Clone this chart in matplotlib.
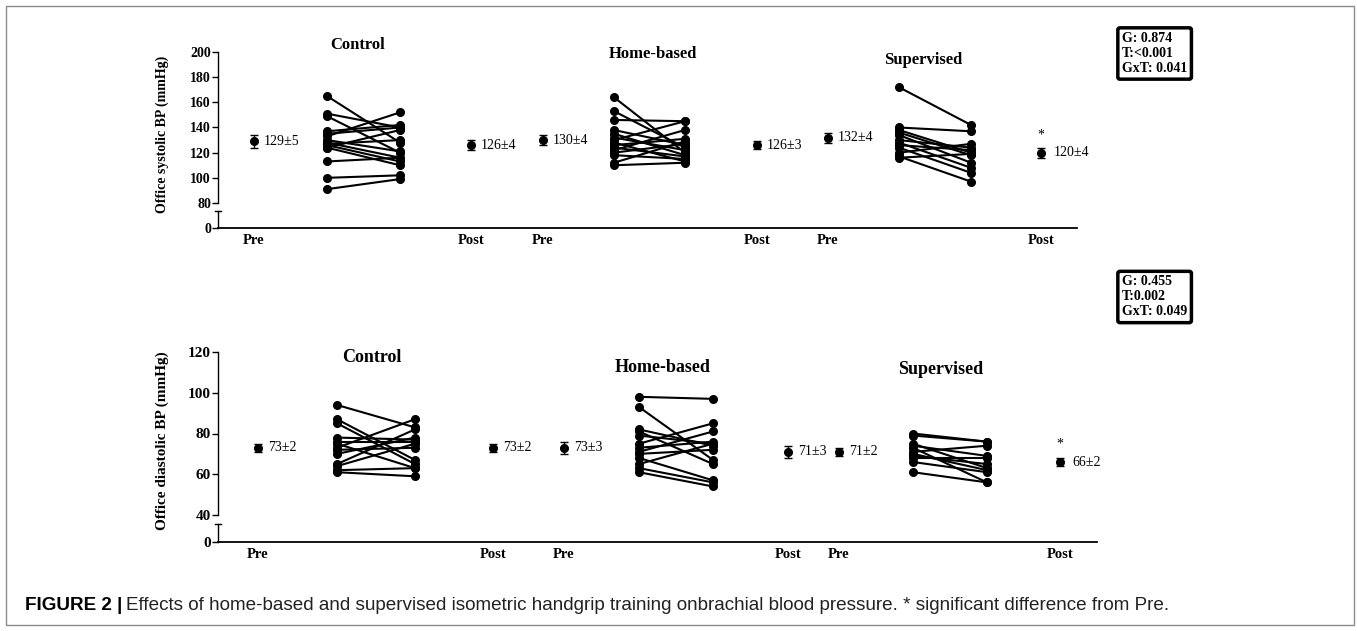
import numpy as np
import matplotlib.pyplot as plt
from matplotlib.lines import Line2D
from matplotlib.patches import Rectangle

# ---- data (mmHg) ----
groups = ["Control", "Home-based", "Supervised"]
phase_labels = ["Pre", "Post"]

# office systolic BP, individual subjects
sbp_ctrl_pre = [165, 151, 149, 137, 135, 133, 130, 128, 127, 126, 124, 124, 113, 100, 91]
sbp_ctrl_post = [128, 140, 120, 142, 140, 152, 121, 116, 130, 113, 110, 138, 116, 102, 99]
sbp_home_pre = [164, 153, 146, 138, 135, 132, 130, 128, 126, 124, 122, 120, 118, 112, 110]
sbp_home_post = [120, 124, 145, 126, 118, 122, 145, 113, 131, 117, 138, 127, 115, 129, 112]
sbp_sup_pre = [172, 140, 138, 136, 134, 130, 128, 126, 124, 120, 117, 116]
sbp_sup_post = [142, 137, 120, 118, 112, 124, 108, 122, 104, 127, 97, 119]
# group mean and SEM
sbp_mean_pre = [129, 130, 132]
sbp_sem_pre = [5, 4, 4]
sbp_mean_post = [126, 126, 120]
sbp_sem_post = [4, 3, 4]
sbp_stats = ["G: 0.874", "T:<0.001", "GxT: 0.041"]

# office diastolic BP, individual subjects
dbp_ctrl_pre = [94, 87, 85, 78, 76, 75, 73, 72, 70, 65, 64, 62, 61]
dbp_ctrl_post = [83, 67, 65, 77, 76, 63, 87, 73, 78, 82, 75, 63, 59]
dbp_home_pre = [98, 93, 82, 81, 79, 75, 73, 71, 70, 68, 65, 63, 61]
dbp_home_post = [97, 67, 74, 65, 75, 85, 76, 81, 72, 57, 75, 56, 54]
dbp_sup_pre = [80, 79, 75, 74, 73, 71, 70, 69, 68, 66, 61]
dbp_sup_post = [76, 76, 63, 69, 56, 74, 62, 65, 68, 61, 56]
dbp_mean_pre = [73, 73, 71]
dbp_sem_pre = [2, 3, 2]
dbp_mean_post = [73, 71, 66]
dbp_sem_post = [2, 3, 2]
dbp_stats = ["G: 0.455", "T:0.002", "GxT: 0.049"]

# Post significantly different from Pre
significant = [False, False, True]

# ---- layout (figure pixels) ----
W, H = 1357, 631
SERIF = "Liberation Serif"
SANS = ['Liberation Sans', 'DejaVu Sans']

plt.rcParams['font.family'] = [SERIF, 'DejaVu Serif']
fig = plt.figure(figsize=(W / 100, H / 100), dpi=100)
fig.add_artist(Rectangle((6 / W, 1 - 625 / H), 1348 / W, 619 / H, transform=fig.transFigure,
                         fill=False, edgecolor='#8a8a8a', lw=1.0))


def px_axes(x0, x1, y_top, y_bot):
    return fig.add_axes([x0 / W, 1 - y_bot / H, (x1 - x0) / W, (y_bot - y_top) / H])


def draw_panel(ind, means_pre, sems_pre, means_post, sems_post, slots, ylim, yticks,
               y_top, y_low, y_break, y_zero, x_right, ylabel, title_px, title_size,
               stats, stats_px, tick_size):
    x_left = 218
    ax = px_axes(x_left, x_right, y_top, y_low)
    ax.set_xlim(x_left, x_right)
    ax.set_ylim(*ylim)
    ax.set_yticks(yticks)
    for s in ['top', 'right', 'bottom']:
        ax.spines[s].set_visible(False)
    ax.spines['left'].set_linewidth(1.0)
    ax.set_xticks([])
    ax.tick_params(axis='y', direction='out', length=4, width=1.0, labelsize=tick_size, pad=1)
    for lbl in ax.get_yticklabels():
        lbl.set_fontweight('bold')

    # broken lower part with the zero tick
    axb = px_axes(x_left, x_right, y_break, y_zero)
    axb.set_xlim(x_left, x_right)
    axb.set_ylim(0, 1)
    axb.set_yticks([0])
    axb.set_yticklabels(['0'], fontweight='bold', fontsize=tick_size)
    for s in ['top', 'right']:
        axb.spines[s].set_visible(False)
    axb.spines['left'].set_linewidth(1.0)
    axb.spines['bottom'].set_linewidth(1.3)
    axb.tick_params(axis='y', direction='out', length=4, width=1.0, pad=1)
    axb.patch.set_alpha(0)
    fig.add_artist(Line2D([(x_left - 3) / W, (x_left + 3) / W], [1 - y_break / H] * 2,
                          color='k', lw=1.0))

    xt, xl = [], []
    for g in range(3):
        p0, p1, p2, p3 = slots[g]
        pre, post = ind[g]
        for a, b in zip(pre, post):
            ax.plot([p1, p2], [a, b], color='k', lw=1.5, marker='o', ms=5.5,
                    clip_on=False, zorder=3)
        ax.errorbar([p0], [means_pre[g]], yerr=[sems_pre[g]], fmt='o', color='k', ms=5.5,
                    capsize=3, elinewidth=1, capthick=1, clip_on=False)
        ax.errorbar([p3], [means_post[g]], yerr=[sems_post[g]], fmt='o', color='k', ms=5.5,
                    capsize=3, elinewidth=1, capthick=1, clip_on=False)
        ax.annotate(f"{means_pre[g]}\u00b1{sems_pre[g]}", (p0, means_pre[g]), xytext=(7, 0),
                    textcoords='offset points', va='center', ha='left', fontsize=10)
        ax.annotate(f"{means_post[g]}\u00b1{sems_post[g]}", (p3, means_post[g]),
                    xytext=(7 if not significant[g] else 9, 0),
                    textcoords='offset points', va='center', ha='left', fontsize=10)
        if significant[g]:
            ax.annotate("*", (p3, means_post[g]), xytext=(0, 13), textcoords='offset points',
                        ha='center', va='center', fontsize=10)
        xt += [p0, p3]
        xl += phase_labels
        tx, ty = title_px[g]
        fig.text(tx / W, 1 - ty / H, groups[g], ha='center', va='center',
                 fontweight='bold', fontsize=title_size)

    axb.set_xticks(xt)
    axb.set_xticklabels(xl, fontweight='bold', fontsize=10.5)
    axb.tick_params(axis='x', length=0, pad=4)

    fig.text(162 / W, 1 - ((y_top + y_zero) / 2 - 6) / H, ylabel, rotation=90, ha='center',
             va='center', fontweight='bold', fontsize=tick_size)

    sx, sy = stats_px
    fig.text(sx / W, 1 - sy / H, "\n".join(stats), ha='left', va='center', fontweight='bold',
             fontsize=10, linespacing=1.2,
             bbox=dict(boxstyle='round,pad=0.3,rounding_size=0.15', fc='white', ec='k', lw=2.5))


draw_panel([(sbp_ctrl_pre, sbp_ctrl_post), (sbp_home_pre, sbp_home_post), (sbp_sup_pre, sbp_sup_post)],
           sbp_mean_pre, sbp_sem_pre, sbp_mean_post, sbp_sem_post,
           slots=[(254, 327, 400, 471), (543, 614, 685, 757), (828, 899, 971, 1041)],
           ylim=(80, 200), yticks=np.arange(80, 201, 20),
           y_top=52, y_low=203, y_break=211, y_zero=228, x_right=1077,
           ylabel="Office systolic BP (mmHg)",
           title_px=[(358, 45), (653, 54), (923, 60)], title_size=12,
           stats=sbp_stats, stats_px=(1122, 53.5), tick_size=10)

draw_panel([(dbp_ctrl_pre, dbp_ctrl_post), (dbp_home_pre, dbp_home_post), (dbp_sup_pre, dbp_sup_post)],
           dbp_mean_pre, dbp_sem_pre, dbp_mean_post, dbp_sem_post,
           slots=[(258, 337, 415, 493), (564, 639, 713, 788), (839, 913, 987, 1060)],
           ylim=(40, 120), yticks=np.arange(40, 121, 20),
           y_top=352, y_low=515, y_break=524, y_zero=542, x_right=1097,
           ylabel="Office diastolic BP (mmHg)",
           title_px=[(372, 357), (663, 367), (941, 369)], title_size=13,
           stats=dbp_stats, stats_px=(1122, 297), tick_size=11)

# caption
cap = fig.text(25 / W, 1 - 606 / H, "FIGURE 2 |", ha='left', va='center', fontweight='bold',
               fontsize=13.6, family=SANS)
fig.axes[0].annotate("Effects of home-based and supervised isometric handgrip training onbrachial blood "
                     "pressure. * significant difference from Pre.",
                     xy=(1, 0.5), xycoords=cap, xytext=(3, 0), textcoords='offset points',
                     ha='left', va='center', fontsize=13.6, color='#222222', family=SANS)

fig.savefig("out.png", dpi=100)
